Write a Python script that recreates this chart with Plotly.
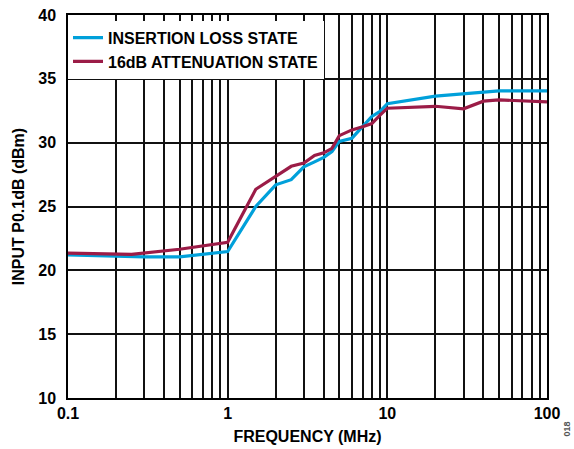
import plotly.graph_objects as go

freq_il = [0.1, 0.2, 0.3, 0.5, 0.7, 1.0, 1.5, 2.0, 2.5, 3.0, 3.5, 4.0, 4.5, 5.0, 6.0, 7.0, 8.0, 9.0, 10.0, 20.0, 30.0, 50.0, 100.0]
il_state = [21.2, 21.08, 21.05, 21.05, 21.25, 21.47, 25.0, 26.7, 27.1, 28.1, 28.5, 28.85, 29.3, 30.1, 30.35, 31.25, 32.05, 32.45, 33.05, 33.65, 33.85, 34.05, 34.05]

freq_att = [0.1, 0.25, 0.5, 0.7, 1.0, 1.5, 2.0, 2.5, 3.0, 3.5, 4.0, 4.5, 5.0, 6.0, 7.0, 8.0, 9.0, 10.0, 20.0, 30.0, 40.0, 50.0, 100.0]
att_state = [21.35, 21.25, 21.65, 21.9, 22.2, 26.35, 27.35, 28.15, 28.4, 29.0, 29.2, 29.55, 30.55, 31.0, 31.25, 31.5, 32.15, 32.7, 32.85, 32.65, 33.25, 33.35, 33.2]

x_tickvals = [0.1, 1, 10, 100]
x_ticktext = ["0.1", "1", "10", "100"]
y_tickvals = [10, 15, 20, 25, 30, 35, 40]

BLUE = "#00A0DA"
RED = "#9B1C47"
GRID = "#111111"
FONT = "Liberation Sans, Arial, sans-serif"
BOLD = dict(family=FONT, size=16, color="black", weight="bold")

fig = go.Figure()
fig.add_trace(go.Scatter(x=freq_il, y=il_state, mode="lines", name="INSERTION LOSS STATE",
                         line=dict(color=BLUE, width=3.2)))
fig.add_trace(go.Scatter(x=freq_att, y=att_state, mode="lines", name="16dB ATTENUATION STATE",
                         line=dict(color=RED, width=3.2)))

fig.update_layout(
    width=574, height=449,
    margin=dict(l=68, r=27, t=15, b=51),
    paper_bgcolor="white", plot_bgcolor="white",
    font=BOLD,
    showlegend=True,
    legend=dict(x=0.0, y=0.985, xanchor="left", yanchor="top", bgcolor="white",
                borderwidth=0, font=BOLD, tracegroupgap=0, itemwidth=30),
    xaxis=dict(type="log", range=[-1, 2], tickvals=x_tickvals, ticktext=x_ticktext,
               showgrid=True, gridcolor=GRID, gridwidth=1.5,
               minor=dict(dtick="D1", showgrid=True, gridcolor=GRID, gridwidth=1.5, ticks=""),
               showline=True, linecolor="black", linewidth=1.5, mirror=True,
               ticks="", tickfont=BOLD, automargin=False,
               title=dict(text="FREQUENCY (MHz)", font=BOLD, standoff=10),
               zeroline=False),
    yaxis=dict(range=[10, 40], tickvals=y_tickvals,
               showgrid=True, gridcolor=GRID, gridwidth=1.5,
               showline=True, linecolor="black", linewidth=1.5, mirror=True,
               ticks="", tickfont=BOLD, automargin=False, ticklabelstandoff=7,
               title=dict(text="INPUT P0.1dB (dBm)", font=BOLD, standoff=10),
               zeroline=False),
)

fig.add_annotation(text="018", xref="paper", yref="paper", x=1.0, y=0.0, xanchor="left", yanchor="top",
                   xshift=12, yshift=-22, textangle=-90, showarrow=False,
                   font=dict(family=FONT, size=9, color="#555555"))

fig.write_html("out.html")
